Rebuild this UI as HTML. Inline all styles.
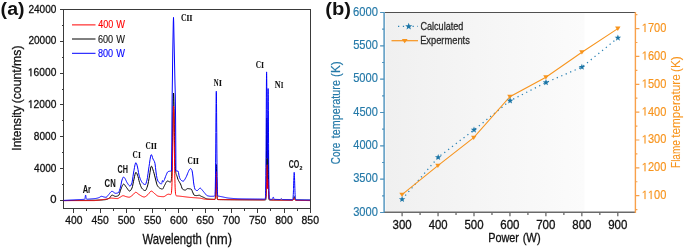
<!DOCTYPE html>
<html><head><meta charset="utf-8"><style>html,body{margin:0;padding:0;background:#fff}svg{display:block;will-change:transform}</style></head><body>
<svg width="685" height="248" viewBox="0 0 685 248">
<defs><linearGradient id="bg" x1="0" x2="1" y1="0" y2="0"><stop offset="0" stop-color="#f0f0f0"/><stop offset="1" stop-color="#fbfbfb"/></linearGradient></defs>
<rect x="385.5" y="13" width="199" height="198.5" fill="url(#bg)"/>
<g stroke="#3a3a3a" stroke-width="1" fill="none" shape-rendering="crispEdges">
<rect x="63.5" y="9.5" width="247" height="199"/>
<path d="M59.5,200.5H63.5 M61.5,184.5H63.5 M59.5,168.5H63.5 M61.5,152.5H63.5 M59.5,136.5H63.5 M61.5,120.5H63.5 M59.5,104.5H63.5 M61.5,89.5H63.5 M59.5,73.5H63.5 M61.5,57.5H63.5 M59.5,41.5H63.5 M61.5,25.5H63.5 M59.5,9.5H63.5 M73.5,208.5V212.5 M86.5,208.5V210.5 M100.5,208.5V212.5 M113.5,208.5V210.5 M126.5,208.5V212.5 M139.5,208.5V210.5 M152.5,208.5V212.5 M165.5,208.5V210.5 M178.5,208.5V212.5 M192.5,208.5V210.5 M205.5,208.5V212.5 M218.5,208.5V210.5 M231.5,208.5V212.5 M244.5,208.5V210.5 M257.5,208.5V212.5 M270.5,208.5V210.5 M284.5,208.5V212.5 M297.5,208.5V210.5 M310.5,208.5V212.5"/>
</g>
<g fill="none" stroke-width="1" stroke-linejoin="round">
<polyline points="63.50,200.60 64.00,200.59 64.50,200.59 65.00,200.58 65.50,200.58 66.00,200.57 66.50,200.57 67.00,200.56 67.50,200.56 68.00,200.55 68.50,200.55 69.00,200.54 69.50,200.54 70.00,200.53 70.50,200.52 71.00,200.52 71.50,200.51 72.00,200.51 72.50,200.50 73.00,200.49 73.50,200.49 74.00,200.48 74.50,200.47 75.00,200.47 75.50,200.46 76.00,200.45 76.50,200.45 77.00,200.44 77.50,200.43 78.00,200.43 78.50,200.42 79.00,200.41 79.50,200.41 80.00,200.40 80.50,200.39 81.00,200.39 81.50,200.38 82.00,200.37 82.50,200.37 83.00,200.36 83.50,200.35 84.00,200.35 84.50,200.34 85.00,200.34 85.50,200.33 86.00,200.32 86.50,200.32 87.00,200.31 87.50,200.30 88.00,200.30 88.50,200.29 89.00,200.28 89.50,200.27 90.00,200.27 90.50,200.26 91.00,200.25 91.50,200.24 92.00,200.23 92.50,200.23 93.00,200.22 93.50,200.21 94.00,200.20 94.50,200.19 95.00,200.17 95.50,200.16 96.00,200.15 96.50,200.14 97.00,200.13 97.50,200.11 98.00,200.10 98.50,200.09 99.00,200.07 99.50,200.05 100.00,200.03 100.50,200.01 101.00,199.99 101.50,199.97 102.00,199.94 102.50,199.91 103.00,199.87 103.50,199.84 104.00,199.80 104.50,199.75 105.00,199.70 105.50,199.63 106.00,199.53 106.50,199.40 107.00,199.23 107.50,199.04 108.00,198.83 108.50,198.59 109.00,198.33 109.50,198.03 110.00,197.49 110.50,196.73 111.00,195.95 111.50,195.35 112.00,195.10 112.50,195.17 113.00,195.36 113.50,195.61 114.00,195.89 114.50,196.14 115.00,196.33 115.50,196.40 116.00,196.37 116.50,196.30 117.00,196.18 117.50,196.01 118.00,195.80 118.50,195.55 119.00,194.96 119.50,193.59 120.00,191.87 120.50,190.20 121.00,188.93 121.50,187.68 122.00,186.43 122.50,185.32 123.00,184.50 123.50,184.11 124.00,184.22 124.50,184.65 125.00,185.30 125.50,186.07 126.00,186.83 126.50,187.50 127.00,188.16 127.50,188.92 128.00,189.68 128.50,190.36 129.00,190.86 129.50,191.09 130.00,190.98 130.50,190.55 131.00,189.87 131.50,188.99 132.00,188.00 132.50,186.36 133.00,183.93 133.50,181.35 134.00,179.14 134.50,176.72 135.00,174.38 135.50,172.69 136.00,172.22 136.50,172.76 137.00,173.84 137.50,175.18 138.00,176.60 138.50,178.53 139.00,180.67 139.50,182.50 140.00,184.00 140.50,185.44 141.00,186.73 141.50,187.78 142.00,188.50 142.50,189.01 143.00,189.49 143.50,189.90 144.00,190.23 144.50,190.47 145.00,190.59 145.50,190.48 146.00,189.85 146.50,188.78 147.00,187.45 147.50,186.00 148.00,184.07 148.50,181.47 149.00,178.63 149.50,175.85 150.00,172.39 150.50,168.94 151.00,166.56 151.50,166.18 152.00,166.94 152.50,168.28 153.00,169.90 153.50,171.50 154.00,173.16 154.50,175.07 155.00,177.07 155.50,179.00 156.00,181.02 156.50,183.10 157.00,184.82 157.50,185.82 158.00,186.54 158.50,187.14 159.00,187.62 159.50,188.01 160.00,188.30 160.50,188.55 161.00,188.77 161.50,188.95 162.00,189.07 162.50,189.08 163.00,188.59 163.50,187.62 164.00,186.49 164.50,185.50 165.00,184.59 165.50,183.56 166.00,182.56 166.50,181.72 167.00,181.16 167.50,181.00 168.00,181.10 168.50,181.30 169.00,181.56 169.50,181.81 170.00,182.00 170.30,182.06 170.43,182.05 170.50,182.04 170.57,182.02 170.70,181.95 170.83,181.82 170.97,181.60 171.00,181.52 171.10,181.23 171.23,180.65 171.37,179.76 171.50,178.45 171.50,178.45 171.63,176.59 171.77,174.00 171.90,170.52 172.00,167.26 172.03,166.04 172.17,160.47 172.30,153.82 172.43,146.19 172.50,142.06 172.57,137.77 172.70,128.90 172.83,120.01 172.97,111.62 173.00,109.66 173.10,104.25 173.23,98.44 173.37,94.59 173.50,93.00 173.50,93.00 173.63,93.76 173.77,96.77 173.90,101.77 174.00,106.57 174.03,108.34 174.17,115.97 174.30,124.14 174.43,132.34 174.50,136.31 174.57,140.13 174.70,147.21 174.83,153.38 174.97,158.54 175.00,159.67 175.10,162.70 175.23,165.96 175.37,168.42 175.50,170.25 175.50,170.25 175.63,171.59 175.77,172.56 175.90,173.27 176.00,173.67 176.03,173.79 176.17,174.20 176.30,174.52 176.43,174.80 176.50,174.92 176.57,175.05 176.70,175.35 177.00,176.23 177.50,177.98 178.00,179.50 178.50,180.54 179.00,181.42 179.50,182.23 180.00,183.06 180.50,183.99 181.00,185.22 181.50,186.76 182.00,188.20 182.50,189.12 183.00,189.44 183.50,189.70 184.00,189.91 184.50,190.04 185.00,190.10 185.50,190.00 186.00,189.66 186.50,189.22 187.00,188.82 187.50,188.61 188.00,188.61 188.50,188.66 189.00,188.73 189.50,188.80 190.00,188.86 190.50,188.93 191.00,189.04 191.50,189.39 192.00,190.46 192.50,191.80 193.00,192.94 193.50,194.14 194.00,195.05 194.50,195.30 195.00,195.43 195.50,195.52 196.00,195.58 196.50,195.60 197.00,195.56 197.50,195.48 198.00,195.37 198.50,195.27 199.00,195.21 199.50,195.25 200.00,195.52 200.50,195.88 201.00,196.20 201.50,196.43 202.00,196.65 202.50,196.86 203.00,197.07 203.50,197.29 204.00,197.55 204.50,197.82 205.00,198.10 205.50,198.37 206.00,198.61 206.50,198.81 207.00,198.95 207.50,199.02 208.00,199.07 208.50,199.12 209.00,199.16 209.50,199.19 210.00,199.22 210.50,199.25 211.00,199.28 211.50,199.30 212.00,199.32 212.50,199.34 213.00,199.36 213.50,199.38 214.00,199.40 214.50,199.42 214.78,199.42 214.84,199.41 214.91,199.40 214.97,199.36 215.00,199.34 215.03,199.31 215.10,199.21 215.16,199.06 215.22,198.82 215.29,198.45 215.35,197.92 215.41,197.16 215.48,196.12 215.50,195.65 215.54,194.73 215.60,192.95 215.67,190.74 215.73,188.11 215.79,185.09 215.86,181.76 215.92,178.25 215.98,174.75 216.00,173.86 216.05,171.46 216.11,168.60 216.17,166.39 216.24,164.98 216.30,164.50 216.36,164.99 216.43,166.40 216.49,168.62 216.50,169.03 216.55,171.48 216.62,174.78 216.68,178.28 216.74,181.79 216.81,185.13 216.87,188.16 216.93,190.79 217.00,193.00 217.00,193.11 217.06,194.79 217.12,196.18 217.19,197.23 217.25,197.99 217.31,198.53 217.38,198.90 217.44,199.15 217.50,199.30 217.50,199.31 217.57,199.41 217.63,199.47 217.69,199.50 217.76,199.52 217.82,199.54 218.00,199.55 218.50,199.57 219.00,199.58 219.50,199.59 220.00,199.60 220.50,199.61 221.00,199.61 221.50,199.62 222.00,199.63 222.50,199.63 223.00,199.64 223.50,199.64 224.00,199.65 224.50,199.66 225.00,199.66 225.50,199.67 226.00,199.67 226.50,199.68 227.00,199.68 227.50,199.69 228.00,199.69 228.50,199.70 229.00,199.70 229.50,199.70 230.00,199.71 230.50,199.71 231.00,199.72 231.50,199.72 232.00,199.73 232.50,199.73 233.00,199.73 233.50,199.74 234.00,199.74 234.50,199.74 235.00,199.75 235.50,199.75 236.00,199.75 236.50,199.76 237.00,199.76 237.50,199.76 238.00,199.77 238.50,199.77 239.00,199.77 239.50,199.77 240.00,199.78 240.50,199.78 241.00,199.78 241.50,199.79 242.00,199.79 242.50,199.79 243.00,199.79 243.50,199.80 244.00,199.80 244.50,199.80 245.00,199.80 245.50,199.81 246.00,199.81 246.50,199.81 247.00,199.81 247.50,199.81 248.00,199.82 248.50,199.82 249.00,199.82 249.50,199.82 250.00,199.83 250.50,199.83 251.00,199.83 251.50,199.83 252.00,199.84 252.50,199.84 253.00,199.84 253.50,199.84 254.00,199.84 254.50,199.85 255.00,199.85 255.50,199.85 256.00,199.85 256.50,199.86 257.00,199.86 257.50,199.86 258.00,199.86 258.50,199.87 259.00,199.87 259.50,199.87 260.00,199.88 260.50,199.88 261.00,199.88 261.50,199.88 262.00,199.89 262.50,199.89 263.00,199.89 263.50,199.90 264.00,199.90 264.50,199.90 265.00,199.91 265.50,199.90 265.60,199.88 265.65,199.86 265.70,199.81 265.75,199.73 265.80,199.60 265.85,199.37 265.90,199.00 265.95,198.43 266.00,197.57 266.00,197.57 266.05,196.31 266.10,194.53 266.15,192.08 266.20,188.83 266.25,184.66 266.30,179.49 266.35,173.32 266.40,166.24 266.45,158.44 266.50,150.23 266.50,150.23 266.55,142.03 266.60,134.32 266.65,127.62 266.70,122.43 266.75,119.13 266.80,118.00 266.85,119.12 266.90,122.41 266.90,122.41 266.95,127.59 266.95,127.59 267.00,134.26 267.00,134.26 267.00,134.26 267.05,141.92 267.05,141.92 267.10,150.04 267.10,150.04 267.15,158.11 267.15,158.11 267.20,165.69 267.20,165.69 267.25,172.42 267.25,172.42 267.30,178.07 267.30,178.07 267.35,182.47 267.35,182.47 267.40,185.55 267.40,185.55 267.45,187.31 267.45,187.31 267.50,187.78 267.50,187.78 267.50,187.78 267.55,187.02 267.55,187.02 267.60,185.13 267.60,185.13 267.65,182.24 267.65,182.24 267.70,178.49 267.70,178.49 267.75,174.10 267.75,174.10 267.80,169.33 267.80,169.33 267.85,164.47 267.85,164.47 267.90,159.85 267.90,159.85 267.95,155.81 267.95,155.81 268.00,152.67 268.00,152.67 268.00,152.67 268.05,150.67 268.10,149.99 268.15,150.69 268.20,152.70 268.25,155.87 268.30,159.95 268.35,164.65 268.40,169.65 268.45,174.65 268.50,179.40 268.50,179.40 268.55,183.72 268.60,187.48 268.65,190.63 268.70,193.17 268.75,195.16 268.80,196.65 268.85,197.74 268.90,198.51 268.95,199.03 269.00,199.38 269.00,199.38 269.05,199.60 269.10,199.74 269.15,199.83 269.20,199.87 269.25,199.90 269.30,199.92 269.50,199.94 270.00,199.94 270.50,199.94 271.00,199.95 271.50,199.95 272.00,199.95 272.50,199.96 273.00,199.96 273.50,199.96 274.00,199.97 274.50,199.97 275.00,199.97 275.50,199.98 276.00,199.98 276.50,199.98 277.00,199.99 277.50,199.99 278.00,199.99 278.50,200.00 279.00,200.00 279.50,200.00 280.00,200.01 280.50,200.01 281.00,200.01 281.50,200.02 282.00,200.02 282.50,200.02 283.00,200.03 283.50,200.03 284.00,200.03 284.50,200.04 285.00,200.04 285.50,200.04 286.00,200.05 286.50,200.05 287.00,200.05 287.50,200.05 288.00,200.06 288.50,200.06 289.00,200.06 289.50,200.07 290.00,200.07 290.50,200.07 291.00,200.08 291.50,200.08 292.00,200.08 292.40,200.09 292.47,200.09 292.50,200.08 292.55,200.08 292.62,200.08 292.70,200.07 292.77,200.07 292.85,200.05 292.92,200.03 293.00,199.99 293.00,199.99 293.07,199.93 293.15,199.86 293.22,199.75 293.30,199.61 293.37,199.42 293.45,199.20 293.50,199.02 293.52,198.93 293.60,198.62 293.67,198.27 293.75,197.91 293.82,197.55 293.90,197.22 293.97,196.92 294.00,196.84 294.05,196.69 294.12,196.55 294.20,196.50 294.27,196.55 294.35,196.70 294.42,196.92 294.50,197.22 294.50,197.22 294.57,197.56 294.65,197.92 294.72,198.28 294.80,198.62 294.87,198.93 294.95,199.21 295.00,199.36 295.02,199.43 295.10,199.62 295.17,199.76 295.25,199.87 295.32,199.95 295.40,200.00 295.47,200.04 295.50,200.05 295.55,200.07 295.62,200.08 295.70,200.09 295.77,200.10 295.85,200.10 295.92,200.11 296.00,200.11 296.00,200.11 296.50,200.11 297.00,200.12 297.50,200.12 298.00,200.12 298.50,200.13 299.00,200.13 299.50,200.13 300.00,200.14 300.50,200.14 301.00,200.14 301.50,200.15 302.00,200.15 302.50,200.15 303.00,200.16 303.50,200.16 304.00,200.16 304.50,200.16 305.00,200.17 305.50,200.17 306.00,200.17 306.50,200.18 307.00,200.18 307.50,200.18 308.00,200.19 308.50,200.19 309.00,200.19 309.50,200.20 310.00,200.20" stroke="#000"/>
<polyline points="63.50,200.60 64.00,200.60 64.50,200.60 65.00,200.60 65.50,200.60 66.00,200.60 66.50,200.60 67.00,200.60 67.50,200.60 68.00,200.60 68.50,200.60 69.00,200.60 69.50,200.60 70.00,200.60 70.50,200.60 71.00,200.60 71.50,200.60 72.00,200.60 72.50,200.60 73.00,200.60 73.50,200.60 74.00,200.60 74.50,200.60 75.00,200.60 75.50,200.60 76.00,200.60 76.50,200.60 77.00,200.60 77.50,200.60 78.00,200.60 78.50,200.60 79.00,200.60 79.50,200.60 80.00,200.60 80.50,200.60 81.00,200.60 81.50,200.60 82.00,200.60 82.50,200.60 83.00,200.60 83.50,200.60 84.00,200.60 84.50,200.60 85.00,200.60 85.50,200.60 86.00,200.60 86.50,200.60 87.00,200.60 87.50,200.60 88.00,200.60 88.50,200.60 89.00,200.60 89.50,200.60 90.00,200.60 90.50,200.60 91.00,200.60 91.50,200.60 92.00,200.60 92.50,200.60 93.00,200.60 93.50,200.60 94.00,200.60 94.50,200.58 95.00,200.56 95.50,200.52 96.00,200.48 96.50,200.43 97.00,200.37 97.50,200.31 98.00,200.25 98.50,200.18 99.00,200.12 99.50,200.05 100.00,199.99 100.50,199.92 101.00,199.86 101.50,199.80 102.00,199.74 102.50,199.67 103.00,199.60 103.50,199.53 104.00,199.45 104.50,199.38 105.00,199.30 105.50,199.22 106.00,199.14 106.50,199.05 107.00,198.96 107.50,198.85 108.00,198.73 108.50,198.59 109.00,198.45 109.50,198.33 110.00,198.22 110.50,198.14 111.00,198.10 111.50,198.10 112.00,198.12 112.50,198.16 113.00,198.20 113.50,198.25 114.00,198.30 114.50,198.35 115.00,198.40 115.50,198.45 116.00,198.51 116.50,198.56 117.00,198.59 117.50,198.59 118.00,198.45 118.50,198.21 119.00,197.90 119.50,197.58 120.00,197.30 120.50,197.01 121.00,196.68 121.50,196.34 122.00,196.04 122.50,195.81 123.00,195.70 123.50,195.74 124.00,195.86 124.50,196.04 125.00,196.25 125.50,196.45 126.00,196.60 126.50,196.73 127.00,196.86 127.50,196.98 128.00,197.09 128.50,197.16 129.00,197.20 129.50,197.15 130.00,196.98 130.50,196.70 131.00,196.36 131.50,195.97 132.00,195.58 132.50,195.20 133.00,194.76 133.50,194.19 134.00,193.58 134.50,193.02 135.00,192.57 135.50,192.32 136.00,192.34 136.50,192.54 137.00,192.88 137.50,193.30 138.00,193.74 138.50,194.16 139.00,194.50 139.50,194.80 140.00,195.11 140.50,195.43 141.00,195.75 141.50,196.06 142.00,196.34 142.50,196.58 143.00,196.78 143.50,196.92 144.00,196.99 144.50,196.97 145.00,196.82 145.50,196.56 146.00,196.21 146.50,195.80 147.00,195.37 147.50,194.92 148.00,194.50 148.50,194.00 149.00,193.36 149.50,192.67 150.00,192.02 150.50,191.48 151.00,191.16 151.50,191.12 152.00,191.31 152.50,191.65 153.00,192.10 153.50,192.60 154.00,193.08 154.50,193.50 155.00,193.89 155.50,194.32 156.00,194.77 156.50,195.19 157.00,195.58 157.50,195.90 158.00,196.12 158.50,196.24 159.00,196.32 159.50,196.40 160.00,196.46 160.50,196.53 161.00,196.58 161.50,196.62 162.00,196.66 162.50,196.68 163.00,196.70 163.50,196.70 164.00,196.60 164.50,196.39 165.00,196.10 165.50,195.75 166.00,195.38 166.50,195.01 167.00,194.68 167.50,194.41 168.00,194.25 168.50,194.20 169.00,194.25 169.50,194.35 170.00,194.48 170.50,194.57 170.62,194.57 170.75,194.55 170.88,194.48 171.00,194.35 171.12,194.12 171.25,193.74 171.38,193.13 171.50,192.21 171.62,190.85 171.75,188.92 171.88,186.27 172.00,182.75 172.12,178.23 172.25,172.63 172.38,165.94 172.50,158.25 172.62,149.79 172.75,140.88 172.88,131.98 173.00,123.62 173.12,116.36 173.25,110.74 173.38,107.19 173.50,106.00 173.62,107.27 173.75,110.91 173.88,116.62 174.00,123.96 174.12,132.40 174.25,141.37 174.38,150.35 174.50,158.89 174.62,166.64 174.75,173.39 174.88,179.05 175.00,183.62 175.12,187.18 175.25,189.87 175.38,191.83 175.50,193.22 175.62,194.17 175.75,194.81 175.88,195.22 176.00,195.49 176.12,195.65 176.25,195.75 176.38,195.82 176.50,195.86 177.00,195.93 177.50,195.98 178.00,196.02 178.50,196.06 179.00,196.10 179.50,196.15 180.00,196.20 180.50,196.25 181.00,196.31 181.50,196.37 182.00,196.43 182.50,196.49 183.00,196.55 183.50,196.61 184.00,196.68 184.50,196.74 185.00,196.80 185.50,196.87 186.00,196.93 186.50,196.99 187.00,197.05 187.50,197.11 188.00,197.17 188.50,197.22 189.00,197.28 189.50,197.33 190.00,197.38 190.50,197.43 191.00,197.47 191.50,197.51 192.00,197.55 192.50,197.59 193.00,197.62 193.50,197.66 194.00,197.69 194.50,197.72 195.00,197.76 195.50,197.79 196.00,197.82 196.50,197.86 197.00,197.90 197.50,197.94 198.00,197.98 198.50,198.02 199.00,198.07 199.50,198.12 200.00,198.18 200.50,198.24 201.00,198.33 201.50,198.44 202.00,198.56 202.50,198.68 203.00,198.81 203.50,198.93 204.00,199.04 204.50,199.12 205.00,199.18 205.50,199.21 206.00,199.23 206.50,199.25 207.00,199.26 207.50,199.27 208.00,199.29 208.50,199.30 209.00,199.31 209.50,199.32 210.00,199.32 210.50,199.33 211.00,199.34 211.50,199.35 212.00,199.36 212.50,199.37 213.00,199.38 213.50,199.39 214.00,199.40 214.50,199.41 214.78,199.42 214.84,199.41 214.91,199.40 214.97,199.37 215.00,199.35 215.03,199.33 215.10,199.25 215.16,199.13 215.22,198.94 215.29,198.65 215.35,198.23 215.41,197.63 215.48,196.80 215.50,196.43 215.54,195.71 215.60,194.30 215.67,192.55 215.73,190.47 215.79,188.08 215.86,185.45 215.92,182.68 215.98,179.91 216.00,179.20 216.05,177.31 216.11,175.05 216.17,173.29 216.24,172.18 216.30,171.80 216.36,172.18 216.43,173.30 216.49,175.06 216.50,175.39 216.55,177.33 216.62,179.93 216.68,182.71 216.74,185.48 216.81,188.12 216.87,190.52 216.93,192.61 217.00,194.35 217.00,194.44 217.06,195.77 217.12,196.87 217.19,197.70 217.25,198.30 217.31,198.73 217.38,199.03 217.44,199.22 217.50,199.34 217.50,199.35 217.57,199.43 217.63,199.47 217.69,199.50 217.76,199.52 217.82,199.53 218.00,199.55 218.50,199.57 219.00,199.58 219.50,199.59 220.00,199.60 220.50,199.61 221.00,199.61 221.50,199.62 222.00,199.63 222.50,199.63 223.00,199.64 223.50,199.64 224.00,199.65 224.50,199.65 225.00,199.66 225.50,199.66 226.00,199.67 226.50,199.67 227.00,199.68 227.50,199.68 228.00,199.69 228.50,199.69 229.00,199.70 229.50,199.70 230.00,199.70 230.50,199.71 231.00,199.71 231.50,199.72 232.00,199.72 232.50,199.72 233.00,199.73 233.50,199.73 234.00,199.73 234.50,199.73 235.00,199.74 235.50,199.74 236.00,199.74 236.50,199.75 237.00,199.75 237.50,199.75 238.00,199.75 238.50,199.76 239.00,199.76 239.50,199.76 240.00,199.76 240.50,199.77 241.00,199.77 241.50,199.77 242.00,199.77 242.50,199.78 243.00,199.78 243.50,199.78 244.00,199.78 244.50,199.78 245.00,199.79 245.50,199.79 246.00,199.79 246.50,199.79 247.00,199.79 247.50,199.80 248.00,199.80 248.50,199.80 249.00,199.80 249.50,199.81 250.00,199.81 250.50,199.81 251.00,199.81 251.50,199.82 252.00,199.82 252.50,199.82 253.00,199.82 253.50,199.83 254.00,199.83 254.50,199.83 255.00,199.83 255.50,199.84 256.00,199.84 256.50,199.84 257.00,199.85 257.50,199.85 258.00,199.85 258.50,199.86 259.00,199.86 259.50,199.86 260.00,199.87 260.50,199.87 261.00,199.87 261.50,199.88 262.00,199.88 262.50,199.89 263.00,199.89 263.20,199.89 263.37,199.89 263.50,199.89 263.53,199.89 263.70,199.89 263.87,199.88 264.00,199.87 264.03,199.86 264.20,199.84 264.37,199.81 264.50,199.76 264.53,199.75 264.70,199.67 264.87,199.55 265.00,199.43 265.03,199.39 265.20,199.18 265.37,198.90 265.50,198.63 265.53,198.56 265.70,198.14 265.70,198.14 265.75,198.00 265.80,197.84 265.85,197.67 265.87,197.61 265.90,197.47 265.95,197.23 266.00,196.94 266.00,196.94 266.03,196.71 266.05,196.58 266.10,196.10 266.15,195.48 266.20,194.66 266.20,194.66 266.25,193.60 266.30,192.25 266.35,190.56 266.37,189.92 266.40,188.52 266.45,186.11 266.50,183.37 266.50,183.37 266.53,181.39 266.55,180.37 266.60,177.24 266.65,174.11 266.70,171.17 266.70,171.17 266.75,168.61 266.80,166.60 266.85,165.30 266.87,165.04 266.90,164.80 266.90,164.80 266.95,165.14 266.95,165.14 267.00,166.27 267.00,166.27 267.00,166.27 267.03,167.43 267.05,168.11 267.05,168.11 267.10,170.50 267.10,170.50 267.15,173.24 267.15,173.24 267.20,176.16 267.20,176.16 267.20,176.16 267.25,179.05 267.25,179.05 267.30,181.74 267.30,181.74 267.35,184.10 267.35,184.10 267.37,184.80 267.40,186.03 267.40,186.03 267.45,187.47 267.45,187.47 267.50,188.40 267.50,188.40 267.50,188.40 267.53,188.73 267.55,188.81 267.55,188.81 267.60,188.73 267.60,188.73 267.65,188.21 267.65,188.21 267.70,187.32 267.70,187.32 267.70,187.32 267.75,186.15 267.75,186.15 267.80,184.79 267.80,184.79 267.85,183.37 267.85,183.37 267.87,182.90 267.90,182.01 267.90,182.01 267.95,180.82 267.95,180.82 268.00,179.93 268.00,179.93 268.00,179.93 268.03,179.55 268.05,179.43 268.05,179.43 268.10,179.37 268.10,179.37 268.15,179.77 268.20,180.62 268.20,180.62 268.25,181.86 268.30,183.41 268.35,185.17 268.37,185.78 268.40,187.03 268.45,188.88 268.50,190.65 268.50,190.65 268.53,191.74 268.55,192.26 268.60,193.68 268.65,194.89 268.70,195.89 268.70,195.89 268.75,196.69 268.80,197.32 268.85,197.81 268.87,197.95 268.90,198.19 268.95,198.47 269.00,198.69 269.00,198.69 269.03,198.81 269.05,198.86 269.10,198.99 269.15,199.10 269.20,199.20 269.20,199.20 269.25,199.28 269.30,199.35 269.37,199.43 269.50,199.57 269.53,199.60 269.70,199.72 269.87,199.81 270.00,199.85 270.03,199.86 270.20,199.90 270.37,199.93 270.50,199.94 270.53,199.95 270.70,199.96 270.87,199.97 271.00,199.97 271.03,199.97 271.20,199.97 271.50,199.98 272.00,199.98 272.50,199.99 273.00,200.00 273.50,200.00 274.00,200.01 274.50,200.02 275.00,200.02 275.50,200.03 276.00,200.03 276.50,200.04 277.00,200.05 277.50,200.05 278.00,200.06 278.50,200.07 279.00,200.07 279.50,200.08 280.00,200.09 280.50,200.10 281.00,200.10 281.50,200.11 282.00,200.12 282.50,200.12 283.00,200.13 283.50,200.14 284.00,200.15 284.50,200.15 285.00,200.16 285.50,200.17 286.00,200.18 286.50,200.18 287.00,200.19 287.50,200.20 288.00,200.21 288.50,200.22 289.00,200.22 289.50,200.23 290.00,200.24 290.50,200.25 291.00,200.26 291.50,200.26 292.00,200.27 292.40,200.28 292.47,200.28 292.50,200.28 292.55,200.28 292.62,200.28 292.70,200.28 292.77,200.27 292.85,200.26 292.92,200.25 293.00,200.22 293.00,200.22 293.07,200.19 293.15,200.14 293.22,200.07 293.30,199.98 293.37,199.87 293.45,199.72 293.50,199.61 293.52,199.55 293.60,199.35 293.67,199.13 293.75,198.90 293.82,198.67 293.90,198.46 293.97,198.27 294.00,198.21 294.05,198.12 294.12,198.03 294.20,198.00 294.27,198.03 294.35,198.13 294.42,198.28 294.50,198.47 294.50,198.47 294.57,198.68 294.65,198.92 294.72,199.15 294.80,199.37 294.87,199.57 294.95,199.75 295.00,199.85 295.02,199.89 295.10,200.01 295.17,200.11 295.25,200.18 295.32,200.23 295.40,200.26 295.47,200.29 295.50,200.30 295.55,200.31 295.62,200.32 295.70,200.33 295.77,200.33 295.85,200.34 295.92,200.34 296.00,200.34 296.00,200.34 296.50,200.35 297.00,200.36 297.50,200.37 298.00,200.38 298.50,200.38 299.00,200.39 299.50,200.40 300.00,200.41 300.50,200.42 301.00,200.43 301.50,200.44 302.00,200.45 302.50,200.46 303.00,200.47 303.50,200.48 304.00,200.49 304.50,200.49 305.00,200.50 305.50,200.51 306.00,200.52 306.50,200.53 307.00,200.54 307.50,200.55 308.00,200.56 308.50,200.57 309.00,200.58 309.50,200.59 310.00,200.60" stroke="#ff0000"/>
<polyline points="63.50,200.40 64.00,200.37 64.50,200.35 65.00,200.32 65.50,200.29 66.00,200.27 66.50,200.24 67.00,200.21 67.50,200.19 68.00,200.16 68.50,200.14 69.00,200.11 69.50,200.08 70.00,200.06 70.50,200.03 71.00,200.01 71.50,199.98 72.00,199.95 72.50,199.93 73.00,199.90 73.50,199.88 74.00,199.85 74.50,199.83 75.00,199.80 75.50,199.77 76.00,199.75 76.50,199.72 77.00,199.70 77.50,199.68 78.00,199.65 78.50,199.63 79.00,199.60 79.50,199.58 80.00,199.56 80.50,199.53 81.00,199.51 81.50,199.48 82.00,199.46 82.50,199.43 83.00,199.41 83.50,199.38 84.00,199.35 84.20,199.34 84.26,199.34 84.32,199.33 84.38,199.32 84.43,199.31 84.49,199.30 84.50,199.30 84.55,199.28 84.61,199.24 84.67,199.20 84.73,199.13 84.78,199.03 84.84,198.90 84.90,198.73 84.96,198.51 85.00,198.32 85.02,198.24 85.08,197.91 85.13,197.54 85.19,197.13 85.25,196.70 85.31,196.27 85.37,195.86 85.43,195.51 85.48,195.24 85.50,195.18 85.54,195.06 85.60,195.00 85.66,195.06 85.72,195.22 85.78,195.49 85.83,195.84 85.89,196.24 85.95,196.66 86.00,197.02 86.01,197.08 86.07,197.49 86.13,197.85 86.18,198.17 86.24,198.44 86.30,198.65 86.36,198.82 86.42,198.94 86.48,199.03 86.50,199.06 86.53,199.09 86.59,199.14 86.65,199.16 86.71,199.18 86.77,199.19 86.83,199.19 86.88,199.19 86.94,199.19 87.00,199.19 87.00,199.19 87.50,199.16 88.00,199.13 88.50,199.10 89.00,199.07 89.50,199.04 90.00,199.00 90.50,198.96 91.00,198.93 91.50,198.89 92.00,198.85 92.50,198.80 93.00,198.76 93.50,198.71 94.00,198.66 94.50,198.60 95.00,198.54 95.50,198.47 96.00,198.40 96.50,198.31 97.00,198.20 97.50,198.08 98.00,197.93 98.50,197.77 99.00,197.60 99.50,197.35 100.00,197.01 100.50,196.67 101.00,196.41 101.50,196.30 102.00,196.36 102.50,196.50 103.00,196.68 103.50,196.87 104.00,197.00 104.50,197.10 105.00,197.20 105.50,197.27 106.00,197.30 106.50,197.12 107.00,196.66 107.50,196.04 108.00,195.38 108.50,194.80 109.00,194.24 109.50,193.60 110.00,192.93 110.50,192.31 111.00,191.79 111.50,191.43 112.00,191.30 112.50,191.41 113.00,191.70 113.50,192.09 114.00,192.51 114.50,192.90 115.00,193.19 115.50,193.30 116.00,193.28 116.50,193.23 117.00,193.14 117.50,193.02 118.00,192.87 118.50,192.56 119.00,191.67 119.50,190.32 120.00,188.70 120.50,187.00 121.00,184.74 121.50,182.04 122.00,180.00 122.50,178.67 123.00,177.57 123.50,177.02 124.00,177.19 124.50,177.78 125.00,178.50 125.50,179.37 126.00,180.47 126.50,181.58 127.00,182.50 127.50,183.28 128.00,184.07 128.50,184.81 129.00,185.44 129.50,185.89 130.00,186.09 130.50,185.89 131.00,185.11 131.50,183.93 132.00,182.50 132.50,179.95 133.00,176.29 133.50,173.00 134.00,170.20 134.50,167.31 135.00,164.79 135.50,163.08 136.00,162.63 136.50,163.48 137.00,165.12 137.50,167.00 138.00,169.47 138.50,172.51 139.00,175.00 139.50,176.71 140.00,178.19 140.50,179.44 141.00,180.50 141.50,181.44 142.00,182.30 142.50,183.00 143.00,183.50 143.50,183.87 144.00,184.20 144.50,184.45 145.00,184.59 145.50,184.41 146.00,183.41 146.50,181.83 147.00,180.00 147.50,177.37 148.00,173.75 148.50,169.98 149.00,166.74 149.50,163.27 150.00,159.76 150.50,156.80 151.00,154.94 151.50,154.72 152.00,155.84 152.50,157.52 153.00,159.00 153.50,159.94 154.00,160.73 154.50,161.74 155.00,163.57 155.50,167.73 156.00,172.00 156.50,175.41 157.00,178.35 157.50,180.03 158.00,181.13 158.50,181.94 159.00,182.50 159.50,182.93 160.00,183.32 160.50,183.65 161.00,183.90 161.06,183.92 161.12,183.94 161.18,183.96 161.23,183.98 161.29,183.99 161.35,183.99 161.41,183.98 161.47,183.96 161.50,183.94 161.53,183.92 161.58,183.86 161.64,183.77 161.70,183.65 161.76,183.49 161.82,183.28 161.88,183.04 161.93,182.75 161.99,182.43 162.00,182.38 162.05,182.09 162.11,181.73 162.17,181.38 162.23,181.07 162.28,180.81 162.34,180.61 162.40,180.50 162.46,180.47 162.50,180.50 162.52,180.52 162.58,180.64 162.63,180.81 162.69,181.02 162.75,181.24 162.81,181.46 162.87,181.66 162.93,181.82 162.98,181.95 163.00,181.98 163.04,182.03 163.10,182.07 163.16,182.07 163.22,182.04 163.28,181.98 163.33,181.89 163.39,181.79 163.45,181.68 163.50,181.58 163.51,181.56 163.57,181.44 163.63,181.31 163.68,181.18 163.74,181.05 163.80,180.92 164.00,180.50 164.50,179.36 165.00,178.06 165.50,176.70 166.00,175.41 166.50,174.29 167.00,173.15 167.50,172.14 168.00,171.60 168.50,171.44 169.00,171.31 169.50,171.23 170.00,171.16 170.50,171.10 171.00,171.04 171.50,171.00 171.60,171.00 171.75,150.00 171.95,120.00 172.15,96.00 172.40,80.00 172.70,56.00 173.00,38.00 173.30,22.00 173.50,17.40 173.70,22.00 174.00,38.00 174.40,56.00 174.90,80.00 175.30,96.00 175.60,120.00 175.80,150.00 175.90,171.00 176.00,171.00 176.50,171.01 177.00,171.02 177.50,171.05 178.00,171.09 178.50,172.56 179.00,175.69 179.50,177.37 180.00,178.69 180.50,179.59 181.00,180.09 181.50,180.52 182.00,180.86 182.50,181.09 183.00,181.20 183.50,181.08 184.00,180.65 184.50,179.97 185.00,179.13 185.50,178.20 186.00,177.28 186.50,176.29 187.00,175.08 187.50,173.78 188.00,172.54 188.50,171.43 189.00,170.31 189.50,169.42 190.00,168.94 190.50,168.63 191.00,168.73 191.50,169.41 192.00,170.50 192.50,173.09 193.00,177.00 193.50,181.92 194.00,185.23 194.50,187.70 195.00,189.30 195.50,189.86 196.00,190.22 196.50,190.47 197.00,190.59 197.50,190.49 198.00,189.99 198.50,189.39 199.00,188.93 199.50,188.45 200.00,188.13 200.50,188.18 201.00,188.60 201.50,189.20 202.00,189.80 202.50,190.37 203.00,190.99 203.50,191.63 204.00,192.25 204.50,192.83 205.00,193.45 205.50,194.09 206.00,194.70 206.50,195.21 207.00,195.57 207.50,195.76 208.00,195.89 208.50,196.01 209.00,196.11 209.50,196.19 210.00,196.25 210.50,196.29 211.00,196.30 211.50,196.29 212.00,196.28 212.50,196.26 213.00,196.24 213.50,196.22 214.00,196.20 214.50,196.16 214.57,196.13 214.65,196.07 214.72,195.97 214.80,195.79 214.87,195.50 214.95,195.03 215.00,194.58 215.02,194.31 215.10,193.20 215.17,191.59 215.25,189.31 215.32,186.17 215.40,182.00 215.47,176.66 215.50,174.60 215.55,170.04 215.62,162.14 215.70,153.07 215.77,143.09 215.85,132.57 215.92,122.07 216.00,112.20 216.00,112.20 216.07,103.63 216.15,96.97 216.22,92.75 216.30,91.30 216.37,92.75 216.45,96.97 216.50,101.17 216.52,103.63 216.60,112.20 216.67,122.07 216.75,132.57 216.82,143.09 216.90,153.07 216.97,162.14 217.00,164.92 217.05,170.04 217.12,176.66 217.20,182.00 217.27,186.17 217.35,189.31 217.42,191.59 217.50,193.20 217.50,193.20 217.57,194.31 217.65,195.03 217.72,195.50 217.80,195.79 217.87,195.97 217.95,196.07 218.00,196.12 218.02,196.13 218.10,196.16 218.50,196.20 219.00,196.22 219.50,196.28 220.00,196.37 220.50,196.48 221.00,196.59 221.50,196.70 222.00,196.80 222.50,196.89 223.00,196.99 223.50,197.10 224.00,197.21 224.50,197.32 225.00,197.43 225.50,197.54 226.00,197.65 226.50,197.75 227.00,197.84 227.50,197.93 228.00,198.00 228.50,198.07 229.00,198.12 229.50,198.17 230.00,198.21 230.50,198.26 231.00,198.30 231.50,198.34 232.00,198.38 232.50,198.42 233.00,198.46 233.50,198.50 234.00,198.53 234.50,198.56 235.00,198.59 235.50,198.62 236.00,198.65 236.50,198.67 237.00,198.70 237.50,198.72 238.00,198.74 238.50,198.76 239.00,198.77 239.50,198.79 240.00,198.80 240.50,198.81 241.00,198.82 241.50,198.83 242.00,198.84 242.50,198.85 243.00,198.86 243.50,198.87 244.00,198.88 244.50,198.88 245.00,198.89 245.50,198.90 246.00,198.90 246.50,198.91 247.00,198.92 247.50,198.92 248.00,198.93 248.50,198.93 249.00,198.94 249.50,198.94 250.00,198.95 250.50,198.95 251.00,198.96 251.50,198.96 252.00,198.97 252.50,198.97 253.00,198.98 253.50,198.98 254.00,198.98 254.50,198.99 255.00,198.99 255.50,199.00 256.00,199.00 256.50,199.01 257.00,199.01 257.50,199.02 258.00,199.02 258.50,199.03 259.00,199.03 259.50,199.04 260.00,199.04 260.50,199.05 261.00,199.06 261.50,199.06 262.00,199.07 262.50,199.08 263.00,199.08 263.50,199.09 264.00,199.10 264.50,199.11 265.00,199.08 265.07,199.04 265.13,198.97 265.20,198.84 265.27,198.63 265.33,198.28 265.40,197.71 265.47,196.83 265.50,196.23 265.53,195.50 265.60,193.54 265.67,190.77 265.73,186.97 265.80,181.93 265.87,175.45 265.93,167.43 266.00,157.86 266.00,157.86 266.07,146.87 266.13,134.76 266.20,122.02 266.27,109.29 266.33,97.32 266.40,86.92 266.47,78.84 266.50,75.87 266.53,73.70 266.57,72.37 266.60,71.90 266.63,72.31 266.67,73.58 266.70,75.67 266.73,78.55 266.77,82.15 266.80,86.38 266.83,91.16 266.87,96.39 266.90,101.95 266.93,107.74 266.97,113.63 267.00,119.52 267.00,119.52 267.03,125.29 267.07,130.85 267.10,136.09 267.13,140.93 267.17,145.28 267.20,149.09 267.23,152.29 267.27,154.84 267.30,156.70 267.33,157.86 267.37,158.31 267.40,158.05 267.43,157.08 267.47,155.44 267.50,153.15 267.50,153.15 267.53,150.27 267.57,146.85 267.60,142.96 267.63,138.66 267.67,134.05 267.70,129.20 267.73,124.23 267.77,119.23 267.80,114.29 267.83,109.53 267.87,105.05 267.90,100.94 267.93,97.30 267.97,94.20 268.00,91.72 268.00,91.72 268.03,89.92 268.07,88.83 268.10,88.49 268.13,88.90 268.17,90.07 268.20,91.96 268.23,94.55 268.30,101.58 268.37,110.63 268.43,121.05 268.50,132.12 268.50,132.12 268.57,143.20 268.63,153.74 268.70,163.30 268.77,171.63 268.83,178.61 268.90,184.24 268.97,188.63 269.00,190.41 269.03,191.94 269.10,194.35 269.17,196.05 269.23,197.22 269.30,197.99 269.37,198.48 269.43,198.79 269.50,198.98 269.50,198.98 269.57,199.09 269.63,199.15 269.70,199.19 270.00,199.23 270.50,199.25 271.00,199.26 271.50,199.28 271.70,199.28 271.77,199.28 271.83,199.28 271.90,199.28 271.97,199.28 272.00,199.28 272.03,199.28 272.10,199.27 272.17,199.25 272.23,199.23 272.30,199.20 272.37,199.15 272.43,199.08 272.50,198.99 272.50,198.99 272.57,198.87 272.63,198.73 272.70,198.55 272.77,198.35 272.83,198.14 272.90,197.90 272.97,197.67 273.00,197.56 273.03,197.46 273.10,197.27 273.17,197.12 273.23,197.03 273.30,197.00 273.37,197.03 273.43,197.13 273.50,197.28 273.50,197.28 273.57,197.47 273.63,197.69 273.70,197.93 273.77,198.16 273.83,198.38 273.90,198.59 273.97,198.76 274.00,198.84 274.03,198.91 274.10,199.03 274.17,199.13 274.23,199.20 274.30,199.25 274.37,199.29 274.43,199.32 274.50,199.33 274.50,199.33 274.57,199.35 274.63,199.35 274.70,199.36 274.77,199.36 274.83,199.37 274.90,199.37 275.00,199.37 275.50,199.39 276.00,199.40 276.50,199.41 277.00,199.43 277.50,199.44 278.00,199.45 278.50,199.46 279.00,199.48 279.50,199.49 279.70,199.49 279.77,199.49 279.83,199.50 279.90,199.50 279.97,199.50 280.00,199.49 280.03,199.49 280.10,199.49 280.17,199.49 280.23,199.48 280.30,199.46 280.37,199.44 280.43,199.41 280.50,199.37 280.50,199.37 280.57,199.32 280.63,199.26 280.70,199.18 280.77,199.09 280.83,199.00 280.90,198.90 280.97,198.79 281.00,198.75 281.03,198.70 281.10,198.62 281.17,198.55 281.23,198.51 281.30,198.50 281.37,198.52 281.43,198.56 281.50,198.63 281.50,198.63 281.57,198.71 281.63,198.81 281.70,198.91 281.77,199.02 281.83,199.12 281.90,199.21 281.97,199.29 282.00,199.32 282.03,199.35 282.10,199.41 282.17,199.45 282.23,199.48 282.30,199.51 282.37,199.52 282.43,199.54 282.50,199.54 282.50,199.54 282.57,199.55 282.63,199.55 282.70,199.56 282.77,199.56 282.83,199.56 282.90,199.56 283.00,199.57 283.50,199.58 284.00,199.59 284.50,199.60 285.00,199.61 285.50,199.62 286.00,199.63 286.50,199.64 287.00,199.65 287.50,199.66 288.00,199.67 288.50,199.68 289.00,199.69 289.50,199.70 290.00,199.71 290.50,199.72 291.00,199.73 291.50,199.74 292.00,199.75 292.20,199.74 292.28,199.74 292.37,199.72 292.45,199.70 292.50,199.67 292.53,199.65 292.62,199.58 292.70,199.46 292.78,199.27 292.87,198.98 292.95,198.56 293.00,198.22 293.03,197.96 293.12,197.14 293.20,196.05 293.28,194.65 293.37,192.92 293.45,190.85 293.50,189.46 293.53,188.48 293.62,185.86 293.70,183.11 293.78,180.36 293.87,177.77 293.95,175.53 294.00,174.41 294.03,173.78 294.12,172.68 294.20,172.30 294.28,172.68 294.37,173.79 294.45,175.53 294.50,176.83 294.53,177.78 294.62,180.37 294.70,183.12 294.78,185.88 294.87,188.50 294.95,190.88 295.00,192.16 295.03,192.95 295.12,194.68 295.20,196.08 295.28,197.18 295.37,198.00 295.45,198.60 295.50,198.87 295.53,199.02 295.62,199.31 295.70,199.51 295.78,199.63 295.87,199.71 295.95,199.75 296.00,199.77 296.03,199.78 296.12,199.80 296.20,199.81 296.50,199.82 297.00,199.83 297.50,199.84 298.00,199.85 298.50,199.85 299.00,199.86 299.50,199.87 300.00,199.88 300.50,199.88 301.00,199.89 301.50,199.90 302.00,199.90 302.50,199.91 303.00,199.92 303.50,199.92 304.00,199.93 304.50,199.94 305.00,199.94 305.50,199.95 306.00,199.96 306.50,199.96 307.00,199.97 307.50,199.97 308.00,199.98 308.50,199.98 309.00,199.99 309.50,199.99 310.00,200.00" stroke="#0000ff"/>
</g>
<path d="M72,24.9H95.5" stroke="#ff0000" stroke-width="1"/>
<path d="M72,39H95.5" stroke="#000" stroke-width="1"/>
<path d="M72,53.3H95.5" stroke="#0000ff" stroke-width="1"/>
<path d="M384.5,12.5H635.5" stroke="#505050" stroke-width="1" shape-rendering="crispEdges"/>
<path d="M384,212.3H635.5" stroke="#6a6a6a" stroke-width="1.5"/>
<path d="M384.1,12V212.5" stroke="#4a90bb" stroke-width="1.4"/>
<path d="M635.4,12V213" stroke="#f8a04a" stroke-width="1.4"/>
<path d="M380.1,212.50H384.1 M382.1,195.83H384.1 M380.1,179.17H384.1 M382.1,162.50H384.1 M380.1,145.83H384.1 M382.1,129.17H384.1 M380.1,112.50H384.1 M382.1,95.83H384.1 M380.1,79.17H384.1 M382.1,62.50H384.1 M380.1,45.83H384.1 M382.1,29.17H384.1 M380.1,12.50H384.1" stroke="#4a90bb" stroke-width="1.2"/>
<path d="M635.4,209.62H637.4 M635.4,195.70H639.4 M635.4,181.77H637.4 M635.4,167.85H639.4 M635.4,153.92H637.4 M635.4,140.00H639.4 M635.4,126.07H637.4 M635.4,112.15H639.4 M635.4,98.22H637.4 M635.4,84.30H639.4 M635.4,70.37H637.4 M635.4,56.45H639.4 M635.4,42.52H637.4 M635.4,28.60H639.4 M635.4,14.67H637.4" stroke="#f8a04a" stroke-width="1.2"/>
<path d="M402.10,212.3V216.3 M420.08,212.3V214.9 M438.05,212.3V216.3 M456.03,212.3V214.9 M474.00,212.3V216.3 M491.98,212.3V214.9 M509.95,212.3V216.3 M527.92,212.3V214.9 M545.90,212.3V216.3 M563.88,212.3V214.9 M581.85,212.3V216.3 M599.83,212.3V214.9 M617.80,212.3V216.3" stroke="#6a6a6a" stroke-width="1.3"/>
<polyline points="402.10,199.30 438.20,157.30 474.00,129.90 510.10,100.70 546.00,82.50 581.90,67.10 617.90,37.90" fill="none" stroke="#2b82b4" stroke-width="1.25" stroke-dasharray="1.25,3.6"/>
<polyline points="402.00,194.70 437.90,165.70 473.70,137.70 509.90,96.70 545.90,77.30 581.90,52.30 617.80,28.60" fill="none" stroke="#f7941d" stroke-width="1.05"/>
<polygon points="399.30,192.70 404.70,192.70 402.00,197.00" fill="#f7941d"/>
<polygon points="435.20,163.70 440.60,163.70 437.90,168.00" fill="#f7941d"/>
<polygon points="471.00,135.70 476.40,135.70 473.70,140.00" fill="#f7941d"/>
<polygon points="507.20,94.70 512.60,94.70 509.90,99.00" fill="#f7941d"/>
<polygon points="543.20,75.30 548.60,75.30 545.90,79.60" fill="#f7941d"/>
<polygon points="579.20,50.30 584.60,50.30 581.90,54.60" fill="#f7941d"/>
<polygon points="615.10,26.60 620.50,26.60 617.80,30.90" fill="#f7941d"/>
<polygon points="402.10,195.90 402.94,198.14 405.33,198.25 403.46,199.74 404.10,202.05 402.10,200.73 400.10,202.05 400.74,199.74 398.87,198.25 401.26,198.14" fill="#1b75a6"/>
<polygon points="438.20,153.90 439.04,156.14 441.43,156.25 439.56,157.74 440.20,160.05 438.20,158.73 436.20,160.05 436.84,157.74 434.97,156.25 437.36,156.14" fill="#1b75a6"/>
<polygon points="474.00,126.50 474.84,128.74 477.23,128.85 475.36,130.34 476.00,132.65 474.00,131.33 472.00,132.65 472.64,130.34 470.77,128.85 473.16,128.74" fill="#1b75a6"/>
<polygon points="510.10,97.30 510.94,99.54 513.33,99.65 511.46,101.14 512.10,103.45 510.10,102.13 508.10,103.45 508.74,101.14 506.87,99.65 509.26,99.54" fill="#1b75a6"/>
<polygon points="546.00,79.10 546.84,81.34 549.23,81.45 547.36,82.94 548.00,85.25 546.00,83.93 544.00,85.25 544.64,82.94 542.77,81.45 545.16,81.34" fill="#1b75a6"/>
<polygon points="581.90,63.70 582.74,65.94 585.13,66.05 583.26,67.54 583.90,69.85 581.90,68.53 579.90,69.85 580.54,67.54 578.67,66.05 581.06,65.94" fill="#1b75a6"/>
<polygon points="617.90,34.50 618.74,36.74 621.13,36.85 619.26,38.34 619.90,40.65 617.90,39.33 615.90,40.65 616.54,38.34 614.67,36.85 617.06,36.74" fill="#1b75a6"/>
<path d="M398,26.3H418" stroke="#2b82b4" stroke-width="1.25" stroke-dasharray="1.25,3.6"/>
<polygon points="408.70,22.70 409.61,25.14 412.22,25.26 410.18,26.88 410.87,29.39 408.70,27.95 406.53,29.39 407.22,26.88 405.18,25.26 407.79,25.14" fill="#1b75a6"/>
<path d="M391.5,40.7H418" stroke="#f7941d" stroke-width="1.2"/>
<polygon points="401.80,38.90 407.60,38.90 404.70,43.20" fill="#f7941d"/>
<text transform="translate(0.62,15.27) scale(1.0291,1)" font-family="Liberation Sans" font-weight="bold" font-size="19" fill="#111111">(a)</text>
<text transform="translate(50.16,203.40) scale(1.0086,1)" font-family="Liberation Sans" stroke="#111111" stroke-width="0.3" font-size="11.2" fill="#111111">0</text>
<text transform="translate(34.07,171.60) scale(0.8959,1)" font-family="Liberation Sans" stroke="#111111" stroke-width="0.3" font-size="11.2" fill="#111111">4000</text>
<text transform="translate(33.86,139.80) scale(0.9045,1)" font-family="Liberation Sans" stroke="#111111" stroke-width="0.3" font-size="11.2" fill="#111111">8000</text>
<text transform="translate(27.91,108.00) scale(0.9146,1)" font-family="Liberation Sans" stroke="#111111" stroke-width="0.3" font-size="11.2" fill="#111111"> 2000</text><path transform="translate(27.91,108.00) scale(0.9146,1) translate(0.000,0) scale(0.00547,-0.00547)" d="M515,0L515,1237L197,1010L197,1180L530,1409L696,1409L696,0Z" fill="#111111" stroke="#111111" stroke-width="54.9"/>
<text transform="translate(27.91,76.20) scale(0.9146,1)" font-family="Liberation Sans" stroke="#111111" stroke-width="0.3" font-size="11.2" fill="#111111"> 6000</text><path transform="translate(27.91,76.20) scale(0.9146,1) translate(0.000,0) scale(0.00547,-0.00547)" d="M515,0L515,1237L197,1010L197,1180L530,1409L696,1409L696,0Z" fill="#111111" stroke="#111111" stroke-width="54.9"/>
<text transform="translate(28.39,44.40) scale(0.8990,1)" font-family="Liberation Sans" stroke="#111111" stroke-width="0.3" font-size="11.2" fill="#111111">20000</text>
<text transform="translate(28.39,12.60) scale(0.8990,1)" font-family="Liberation Sans" stroke="#111111" stroke-width="0.3" font-size="11.2" fill="#111111">24000</text>
<text transform="translate(65.27,223.80) scale(0.9226,1)" font-family="Liberation Sans" stroke="#111111" stroke-width="0.3" font-size="11.2" fill="#111111">400</text>
<text transform="translate(91.55,223.80) scale(0.9226,1)" font-family="Liberation Sans" stroke="#111111" stroke-width="0.3" font-size="11.2" fill="#111111">450</text>
<text transform="translate(117.64,223.80) scale(0.9325,1)" font-family="Liberation Sans" stroke="#111111" stroke-width="0.3" font-size="11.2" fill="#111111">500</text>
<text transform="translate(143.92,223.80) scale(0.9325,1)" font-family="Liberation Sans" stroke="#111111" stroke-width="0.3" font-size="11.2" fill="#111111">550</text>
<text transform="translate(170.08,223.80) scale(0.9389,1)" font-family="Liberation Sans" stroke="#111111" stroke-width="0.3" font-size="11.2" fill="#111111">600</text>
<text transform="translate(196.35,223.80) scale(0.9389,1)" font-family="Liberation Sans" stroke="#111111" stroke-width="0.3" font-size="11.2" fill="#111111">650</text>
<text transform="translate(222.62,223.80) scale(0.9392,1)" font-family="Liberation Sans" stroke="#111111" stroke-width="0.3" font-size="11.2" fill="#111111">700</text>
<text transform="translate(248.90,223.80) scale(0.9392,1)" font-family="Liberation Sans" stroke="#111111" stroke-width="0.3" font-size="11.2" fill="#111111">750</text>
<text transform="translate(275.26,223.80) scale(0.9346,1)" font-family="Liberation Sans" stroke="#111111" stroke-width="0.3" font-size="11.2" fill="#111111">800</text>
<text transform="translate(301.53,223.80) scale(0.9346,1)" font-family="Liberation Sans" stroke="#111111" stroke-width="0.3" font-size="11.2" fill="#111111">850</text>
<text transform="translate(142.49,243.60) scale(0.7982,1)" font-family="Liberation Sans" stroke="#111111" stroke-width="0.3" font-size="14.2" fill="#111111">Wavelength</text>
<text transform="translate(205.73,243.60) scale(0.9013,1)" font-family="Liberation Sans" stroke="#111111" stroke-width="0.3" font-size="14.2" fill="#111111">(nm)</text>
<text transform="translate(21.10,150.69) rotate(-90) scale(0.8872,1)" font-family="Liberation Sans" stroke="#111111" stroke-width="0.3" font-size="13.6" fill="#111111">Intensity</text>
<text transform="translate(21.10,103.34) rotate(-90) scale(0.9015,1)" font-family="Liberation Sans" stroke="#111111" stroke-width="0.3" font-size="13.6" fill="#111111">(count/ms)</text>
<text transform="translate(98.19,28.43) scale(0.8537,1)" font-family="Liberation Sans" stroke="#ff0000" stroke-width="0.12" font-size="10.5" fill="#ff0000">400</text>
<text transform="translate(116.31,28.34) scale(0.8807,1)" font-family="Liberation Sans" stroke="#ff0000" stroke-width="0.12" font-size="10.5" fill="#ff0000">W</text>
<text transform="translate(97.94,42.73) scale(0.8688,1)" font-family="Liberation Sans" stroke="#111111" stroke-width="0.12" font-size="10.5" fill="#111111">600</text>
<text transform="translate(116.31,42.64) scale(0.8807,1)" font-family="Liberation Sans" stroke="#111111" stroke-width="0.12" font-size="10.5" fill="#111111">W</text>
<text transform="translate(98.01,57.13) scale(0.8647,1)" font-family="Liberation Sans" stroke="#0000ff" stroke-width="0.12" font-size="10.5" fill="#0000ff">800</text>
<text transform="translate(116.31,57.04) scale(0.8807,1)" font-family="Liberation Sans" stroke="#0000ff" stroke-width="0.12" font-size="10.5" fill="#0000ff">W</text>
<text transform="translate(82.68,192.70) scale(0.7477,1)" font-family="Liberation Sans" font-weight="bold" stroke="#111111" stroke-width="0.05" font-size="10.0" fill="#111111">Ar</text>
<text transform="translate(104.59,186.80) scale(0.7687,1)" font-family="Liberation Sans" font-weight="bold" stroke="#111111" stroke-width="0.05" font-size="10.0" fill="#111111">CN</text>
<text transform="translate(117.61,172.80) scale(0.7239,1)" font-family="Liberation Sans" font-weight="bold" stroke="#111111" stroke-width="0.05" font-size="10.0" fill="#111111">CH</text>
<text transform="translate(132.53,158.35) scale(0.6667,1)" font-family="Liberation Serif" font-weight="bold" stroke="#111111" stroke-width="0.05" font-size="11.0" fill="#111111">C</text>
<text transform="translate(137.97,157.99) scale(0.8809,1)" font-family="Liberation Serif" font-weight="bold" stroke="#111111" stroke-width="0.05" font-size="8.6" fill="#111111">I</text>
<text transform="translate(145.53,149.15) scale(0.6667,1)" font-family="Liberation Serif" font-weight="bold" stroke="#111111" stroke-width="0.05" font-size="11.0" fill="#111111">C</text>
<text transform="translate(150.65,148.79) scale(0.9771,1)" font-family="Liberation Serif" font-weight="bold" stroke="#111111" stroke-width="0.05" font-size="8.6" fill="#111111">I</text>
<text transform="translate(153.77,148.79) scale(0.9771,1)" font-family="Liberation Serif" font-weight="bold" stroke="#111111" stroke-width="0.05" font-size="8.6" fill="#111111">I</text>
<text transform="translate(180.92,21.45) scale(0.6970,1)" font-family="Liberation Serif" font-weight="bold" stroke="#111111" stroke-width="0.05" font-size="11.0" fill="#111111">C</text>
<text transform="translate(186.14,21.09) scale(0.9937,1)" font-family="Liberation Serif" font-weight="bold" stroke="#111111" stroke-width="0.05" font-size="8.6" fill="#111111">I</text>
<text transform="translate(189.32,21.09) scale(0.9937,1)" font-family="Liberation Serif" font-weight="bold" stroke="#111111" stroke-width="0.05" font-size="8.6" fill="#111111">I</text>
<text transform="translate(187.53,163.95) scale(0.6667,1)" font-family="Liberation Serif" font-weight="bold" stroke="#111111" stroke-width="0.05" font-size="11.0" fill="#111111">C</text>
<text transform="translate(192.65,163.59) scale(0.9771,1)" font-family="Liberation Serif" font-weight="bold" stroke="#111111" stroke-width="0.05" font-size="8.6" fill="#111111">I</text>
<text transform="translate(195.77,163.59) scale(0.9771,1)" font-family="Liberation Serif" font-weight="bold" stroke="#111111" stroke-width="0.05" font-size="8.6" fill="#111111">I</text>
<text transform="translate(213.66,85.95) scale(0.6192,1)" font-family="Liberation Serif" font-weight="bold" stroke="#111111" stroke-width="0.05" font-size="11.0" fill="#111111">N</text>
<text transform="translate(218.85,85.59) scale(0.9866,1)" font-family="Liberation Serif" font-weight="bold" stroke="#111111" stroke-width="0.05" font-size="8.6" fill="#111111">I</text>
<text transform="translate(255.73,68.15) scale(0.6667,1)" font-family="Liberation Serif" font-weight="bold" stroke="#111111" stroke-width="0.05" font-size="11.0" fill="#111111">C</text>
<text transform="translate(261.06,67.79) scale(0.9161,1)" font-family="Liberation Serif" font-weight="bold" stroke="#111111" stroke-width="0.05" font-size="8.6" fill="#111111">I</text>
<text transform="translate(274.74,88.35) scale(0.7378,1)" font-family="Liberation Serif" font-weight="bold" stroke="#111111" stroke-width="0.05" font-size="11.0" fill="#111111">N</text>
<text transform="translate(280.79,87.99) scale(0.8104,1)" font-family="Liberation Serif" font-weight="bold" stroke="#111111" stroke-width="0.05" font-size="8.6" fill="#111111">I</text>
<text transform="translate(288.72,167.54) scale(0.6904,1)" font-family="Liberation Sans" font-weight="bold" stroke="#111111" stroke-width="0.05" font-size="10.2" fill="#111111">CO</text>
<text transform="translate(299.44,170.26) scale(0.9148,1)" font-family="Liberation Sans" font-weight="bold" stroke="#111111" stroke-width="0.05" font-size="5.8" fill="#111111">2</text>
<text transform="translate(325.19,15.27) scale(1.0616,1)" font-family="Liberation Sans" font-weight="bold" font-size="19" fill="#111111">(b)</text>
<text transform="translate(353.18,215.80) scale(0.9275,1)" font-family="Liberation Sans" stroke="#2479a8" stroke-width="0.15" font-size="12.0" fill="#2479a8">3000</text>
<text transform="translate(353.18,182.47) scale(0.9275,1)" font-family="Liberation Sans" stroke="#2479a8" stroke-width="0.15" font-size="12.0" fill="#2479a8">3500</text>
<text transform="translate(353.35,149.13) scale(0.9210,1)" font-family="Liberation Sans" stroke="#2479a8" stroke-width="0.15" font-size="12.0" fill="#2479a8">4000</text>
<text transform="translate(353.35,115.80) scale(0.9210,1)" font-family="Liberation Sans" stroke="#2479a8" stroke-width="0.15" font-size="12.0" fill="#2479a8">4500</text>
<text transform="translate(353.15,82.47) scale(0.9283,1)" font-family="Liberation Sans" stroke="#2479a8" stroke-width="0.15" font-size="12.0" fill="#2479a8">5000</text>
<text transform="translate(353.15,49.13) scale(0.9283,1)" font-family="Liberation Sans" stroke="#2479a8" stroke-width="0.15" font-size="12.0" fill="#2479a8">5500</text>
<text transform="translate(353.03,15.80) scale(0.9330,1)" font-family="Liberation Sans" stroke="#2479a8" stroke-width="0.15" font-size="12.0" fill="#2479a8">6000</text>
<text transform="translate(641.74,199.10) scale(0.9213,1)" font-family="Liberation Sans" stroke="#f7941d" stroke-width="0.15" font-size="12.0" fill="#f7941d">  00</text><path transform="translate(641.74,199.10) scale(0.9213,1) translate(0.000,0) scale(0.00586,-0.00586)" d="M515,0L515,1237L197,1010L197,1180L530,1409L696,1409L696,0Z" fill="#f7941d" stroke="#f7941d" stroke-width="25.6"/><path transform="translate(641.74,199.10) scale(0.9213,1) translate(6.674,0) scale(0.00586,-0.00586)" d="M515,0L515,1237L197,1010L197,1180L530,1409L696,1409L696,0Z" fill="#f7941d" stroke="#f7941d" stroke-width="25.6"/>
<text transform="translate(641.74,171.25) scale(0.9213,1)" font-family="Liberation Sans" stroke="#f7941d" stroke-width="0.15" font-size="12.0" fill="#f7941d"> 200</text><path transform="translate(641.74,171.25) scale(0.9213,1) translate(0.000,0) scale(0.00586,-0.00586)" d="M515,0L515,1237L197,1010L197,1180L530,1409L696,1409L696,0Z" fill="#f7941d" stroke="#f7941d" stroke-width="25.6"/>
<text transform="translate(641.74,143.40) scale(0.9213,1)" font-family="Liberation Sans" stroke="#f7941d" stroke-width="0.15" font-size="12.0" fill="#f7941d"> 300</text><path transform="translate(641.74,143.40) scale(0.9213,1) translate(0.000,0) scale(0.00586,-0.00586)" d="M515,0L515,1237L197,1010L197,1180L530,1409L696,1409L696,0Z" fill="#f7941d" stroke="#f7941d" stroke-width="25.6"/>
<text transform="translate(641.74,115.55) scale(0.9213,1)" font-family="Liberation Sans" stroke="#f7941d" stroke-width="0.15" font-size="12.0" fill="#f7941d"> 400</text><path transform="translate(641.74,115.55) scale(0.9213,1) translate(0.000,0) scale(0.00586,-0.00586)" d="M515,0L515,1237L197,1010L197,1180L530,1409L696,1409L696,0Z" fill="#f7941d" stroke="#f7941d" stroke-width="25.6"/>
<text transform="translate(641.74,87.70) scale(0.9213,1)" font-family="Liberation Sans" stroke="#f7941d" stroke-width="0.15" font-size="12.0" fill="#f7941d"> 500</text><path transform="translate(641.74,87.70) scale(0.9213,1) translate(0.000,0) scale(0.00586,-0.00586)" d="M515,0L515,1237L197,1010L197,1180L530,1409L696,1409L696,0Z" fill="#f7941d" stroke="#f7941d" stroke-width="25.6"/>
<text transform="translate(641.74,59.85) scale(0.9213,1)" font-family="Liberation Sans" stroke="#f7941d" stroke-width="0.15" font-size="12.0" fill="#f7941d"> 600</text><path transform="translate(641.74,59.85) scale(0.9213,1) translate(0.000,0) scale(0.00586,-0.00586)" d="M515,0L515,1237L197,1010L197,1180L530,1409L696,1409L696,0Z" fill="#f7941d" stroke="#f7941d" stroke-width="25.6"/>
<text transform="translate(641.74,32.00) scale(0.9213,1)" font-family="Liberation Sans" stroke="#f7941d" stroke-width="0.15" font-size="12.0" fill="#f7941d"> 700</text><path transform="translate(641.74,32.00) scale(0.9213,1) translate(0.000,0) scale(0.00586,-0.00586)" d="M515,0L515,1237L197,1010L197,1180L530,1409L696,1409L696,0Z" fill="#f7941d" stroke="#f7941d" stroke-width="25.6"/>
<text transform="translate(392.56,228.90) scale(0.9531,1)" font-family="Liberation Sans" stroke="#111111" stroke-width="0.3" font-size="12.0" fill="#111111">300</text>
<text transform="translate(428.69,228.90) scale(0.9441,1)" font-family="Liberation Sans" stroke="#111111" stroke-width="0.3" font-size="12.0" fill="#111111">400</text>
<text transform="translate(464.44,228.90) scale(0.9543,1)" font-family="Liberation Sans" stroke="#111111" stroke-width="0.3" font-size="12.0" fill="#111111">500</text>
<text transform="translate(500.26,228.90) scale(0.9608,1)" font-family="Liberation Sans" stroke="#111111" stroke-width="0.3" font-size="12.0" fill="#111111">600</text>
<text transform="translate(536.21,228.90) scale(0.9611,1)" font-family="Liberation Sans" stroke="#111111" stroke-width="0.3" font-size="12.0" fill="#111111">700</text>
<text transform="translate(572.25,228.90) scale(0.9563,1)" font-family="Liberation Sans" stroke="#111111" stroke-width="0.3" font-size="12.0" fill="#111111">800</text>
<text transform="translate(608.16,228.90) scale(0.9584,1)" font-family="Liberation Sans" stroke="#111111" stroke-width="0.3" font-size="12.0" fill="#111111">900</text>
<text transform="translate(488.13,242.20) scale(0.8915,1)" font-family="Liberation Sans" stroke="#111111" stroke-width="0.3" font-size="12.2" fill="#111111">Power</text>
<text transform="translate(522.63,242.20) scale(0.9187,1)" font-family="Liberation Sans" stroke="#111111" stroke-width="0.3" font-size="12.2" fill="#111111">(W)</text>
<text transform="translate(340.10,164.20) rotate(-90) scale(0.7775,1)" font-family="Liberation Sans" stroke="#2479a8" stroke-width="0.18" font-size="12.8" fill="#2479a8">Core</text>
<text transform="translate(340.10,138.22) rotate(-90) scale(0.8428,1)" font-family="Liberation Sans" stroke="#2479a8" stroke-width="0.18" font-size="12.8" fill="#2479a8">temperature</text>
<text transform="translate(340.10,76.90) rotate(-90) scale(0.9104,1)" font-family="Liberation Sans" stroke="#2479a8" stroke-width="0.18" font-size="12.8" fill="#2479a8">(K)</text>
<text transform="translate(680.30,168.00) rotate(-90) scale(0.7842,1)" font-family="Liberation Sans" stroke="#f7941d" stroke-width="0.12" font-size="12.8" fill="#f7941d">Flame</text>
<text transform="translate(680.30,137.84) rotate(-90) scale(0.9220,1)" font-family="Liberation Sans" stroke="#f7941d" stroke-width="0.12" font-size="12.8" fill="#f7941d">temperature</text>
<text transform="translate(680.30,71.90) rotate(-90) scale(0.9104,1)" font-family="Liberation Sans" stroke="#f7941d" stroke-width="0.12" font-size="12.8" fill="#f7941d">(K)</text>
<text transform="translate(420.45,29.80) scale(0.8338,1)" font-family="Liberation Sans" stroke="#2b2b2b" stroke-width="0.3" font-size="10.9" fill="#2b2b2b">Calculated</text>
<text transform="translate(420.15,43.70) scale(0.8559,1)" font-family="Liberation Sans" stroke="#2b2b2b" stroke-width="0.3" font-size="10.9" fill="#2b2b2b">Experments</text>
</svg>
</body></html>
